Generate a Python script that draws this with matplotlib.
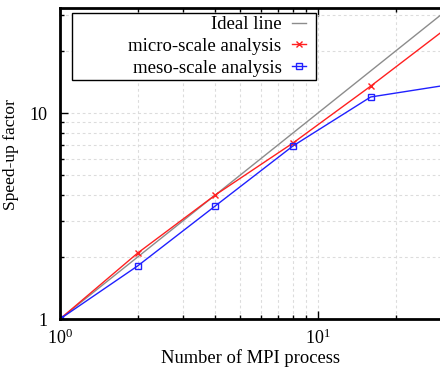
import matplotlib
matplotlib.use('Agg')
import matplotlib.pyplot as plt
from matplotlib.patches import Rectangle
from matplotlib.ticker import LogLocator, FixedLocator, FixedFormatter, NullFormatter

plt.rcParams['font.family'] = ['Liberation Serif', 'DejaVu Serif']
plt.rcParams['mathtext.fontset'] = 'custom'
plt.rcParams['mathtext.rm'] = 'Liberation Serif'
plt.rcParams['mathtext.it'] = 'Liberation Serif:italic'

# data
procs = [1, 2, 4, 8, 16, 32]
ideal = [1, 2, 4, 8, 16, 32]
micro = [1, 2.09, 4.0, 7.15, 13.5, 26.2]
meso = [1, 1.81, 3.54, 6.92, 11.96, 13.7]

W, H = 440, 374
x0, y0, aw, ah = 60, 55, 380, 311   # axes box in pixels (from bottom-left)

fig = plt.figure(figsize=(4.4, 3.74), dpi=100)
ax = fig.add_axes([x0 / W, y0 / H, aw / W, ah / H])

ax.plot(procs, ideal, color='#8c8c8c', lw=1.0, label='Ideal line')
ax.plot(procs, micro, color='#ff2020', lw=1.0, marker='x', ms=5, mew=1.0,
        label='micro-scale analysis')
ax.plot(procs, meso, color='#2020ff', lw=1.0, marker='s', ms=5, mew=1.0,
        mfc='none', label='meso-scale analysis')

ax.set_xscale('log')
ax.set_yscale('log')
ax.set_xlim(1, 10 ** (aw / 258))
ax.set_ylim(1, 10 ** (ah / 206))

ax.xaxis.set_major_locator(FixedLocator([1, 10]))
ax.xaxis.set_major_formatter(FixedFormatter([r'$10^0$', r'$10^1$']))
ax.xaxis.set_minor_locator(LogLocator(base=10, subs=range(2, 10)))
ax.xaxis.set_minor_formatter(NullFormatter())
ax.yaxis.set_major_locator(FixedLocator([1, 10]))
ax.yaxis.set_major_formatter(FixedFormatter(['1', '10']))
ax.yaxis.set_minor_locator(LogLocator(base=10, subs=range(2, 10)))
ax.yaxis.set_minor_formatter(NullFormatter())

ax.tick_params(which='both', direction='in', top=True, right=False,
               labelsize=13, width=1.0)
ax.tick_params(which='major', length=6)
ax.tick_params(which='minor', length=3)
ax.tick_params(axis='x', pad=7)
ax.tick_params(axis='y', pad=9)

ax.grid(True, which='both', color='#dcdcdc', ls=(0, (2.5, 2.5)), lw=0.8)

for side in ['left', 'bottom', 'top']:
    ax.spines[side].set_linewidth(2.0)
ax.spines['right'].set_visible(False)

ax.set_xlabel('Number of MPI process', fontsize=13.3, labelpad=1)
ax.set_ylabel('Speed-up factor', fontsize=12.6)
ax.yaxis.set_label_coords((19 - x0) / aw, (319 - 154) / ah)

# gnuplot-like key box: fixed frame, entries right-aligned with sample on the right
ax.add_patch(Rectangle((12 / aw, 1 - 72 / ah), 244 / aw, 67 / ah,
                       transform=ax.transAxes, fill=True, fc='white',
                       ec='black', lw=1.0, zorder=4))
leg = ax.legend(loc='upper right', bbox_to_anchor=(246 / aw, 1 - 8 / ah),
                borderaxespad=0, borderpad=0, markerfirst=False, fontsize=13.5,
                frameon=False, handlelength=0.75, handletextpad=0.55,
                labelspacing=0.25)
leg.set_zorder(5)

fig.savefig('out.png', dpi=100)
